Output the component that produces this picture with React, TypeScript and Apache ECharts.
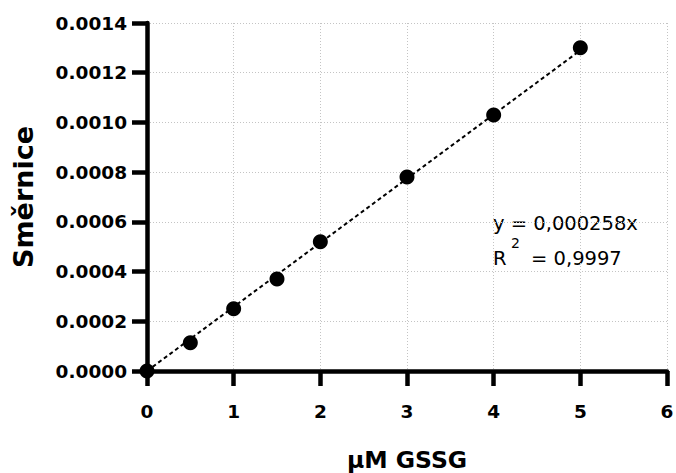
import React, { useEffect, useRef } from "react";
import * as echarts from "echarts";

const xValues = [0, 0.5, 1, 1.5, 2, 3, 4, 5];
const yValues = [0, 0.000114, 0.00025, 0.00037, 0.00052, 0.00078, 0.00103, 0.0013];
const trendX = [0, 5];
const trendY = [0, 0.00129];
const xTitle = "μM GSSG";
const yTitle = "Směrnice";
const equationText = "y = 0,000258x";
const r2Value = "= 0,9997";

const FONT = "DejaVu Sans";

export default function App() {
  const ref = useRef<HTMLDivElement>(null);

  useEffect(() => {
    if (!ref.current) return;
    const chart = echarts.init(ref.current, undefined, { renderer: "svg" });
    const axisLine = { show: true, lineStyle: { color: "#000", width: 4.5 } };
    const axisTick = { show: true, inside: false, length: 15, lineStyle: { color: "#000", width: 4.5 } };
    const splitLine = { show: true, lineStyle: { color: "#c4c4c4", width: 1, type: [1, 2] } };
    chart.setOption({
      animation: false,
      backgroundColor: "#ffffff",
      grid: { left: 147, right: 9, top: 23, bottom: 102, containLabel: false, outerBoundsMode: "none" },
      xAxis: {
        type: "value",
        min: 0,
        max: 6,
        interval: 1,
        axisLine,
        axisTick,
        splitLine,
        axisLabel: {
          margin: 31,
          color: "#000",
          fontFamily: FONT,
          fontWeight: "bold",
          fontSize: 18.5,
        },
        name: xTitle,
        nameLocation: "middle",
        nameGap: 77,
        nameTextStyle: { color: "#000", fontFamily: FONT, fontWeight: "bold", fontSize: 23.5 },
      },
      yAxis: {
        type: "value",
        min: 0,
        max: 0.0014,
        interval: 0.0002,
        axisLine,
        axisTick,
        splitLine,
        axisLabel: {
          margin: 20,
          color: "#000",
          fontFamily: FONT,
          fontWeight: "bold",
          fontSize: 18.5,
          formatter: (v: number) => v.toFixed(4),
        },
        name: yTitle,
        nameLocation: "middle",
        nameGap: 110,
        nameRotate: 90,
        nameTextStyle: { color: "#000", fontFamily: FONT, fontWeight: "bold", fontSize: 27 },
      },
      series: [
        {
          type: "line",
          data: trendX.map((x, i) => [x, trendY[i]]),
          showSymbol: false,
          symbol: "none",
          lineStyle: { color: "#000", width: 2, type: [4, 3] },
          z: 2,
          silent: true,
        },
        {
          type: "scatter",
          data: xValues.map((x, i) => [x, yValues[i]]),
          symbol: "circle",
          symbolSize: 15,
          itemStyle: { color: "#000", opacity: 1 },
          z: 3,
        },
      ],
      graphic: [
        {
          type: "text",
          left: 493,
          top: 213,
          style: { text: equationText, fill: "#000", font: `19.5px "${FONT}"` },
        },
        {
          type: "text",
          left: 493,
          top: 248,
          style: { text: "R", fill: "#000", font: `19.5px "${FONT}"` },
        },
        {
          type: "text",
          left: 511,
          top: 236,
          style: { text: "2", fill: "#000", font: `14px "${FONT}"` },
        },
        {
          type: "text",
          left: 531,
          top: 248,
          style: { text: r2Value, fill: "#000", font: `19.5px "${FONT}"` },
        },
      ],
    });
    return () => chart.dispose();
  }, []);

  return (
    <div
      ref={ref}
      style={{ position: "fixed", left: 0, top: 0, width: 676, height: 473, background: "#fff" }}
    />
  );
}
